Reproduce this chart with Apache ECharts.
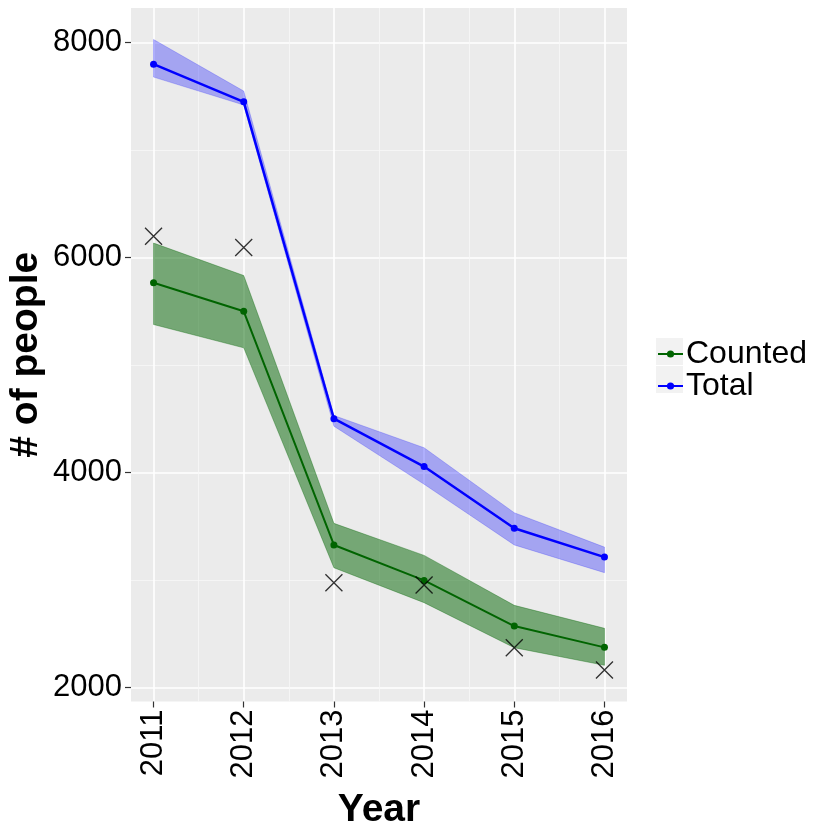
<!DOCTYPE html>
<html>
<head>
<meta charset="utf-8">
<script src="https://cdn.jsdelivr.net/npm/echarts@6/dist/echarts.min.js"></script>
<style>
  html, body { margin: 0; padding: 0; background: #fff; }
  #chart { width: 830px; height: 830px; }
</style>
</head>
<body>
<div id="chart"></div>
<script>
// data
const years = [2011, 2012, 2013, 2014, 2015, 2016];
const totalMean = [7800, 7450, 4500, 4055, 3480, 3212];
const totalLo = [7680, 7420, 4430, 3890, 3325, 3067];
const totalHi = [8030, 7550, 4530, 4230, 3625, 3305];
const countedMean = [5765, 5500, 3325, 2995, 2570, 2372];
const countedLo = [5377, 5160, 3113, 2788, 2369, 2205];
const countedHi = [6135, 5833, 3526, 3228, 2763, 2549];
const observed = [6198, 6093, 2974, 2952, 2369, 2161];
const yTicks = [2000, 4000, 6000, 8000];

const FONT = '"Liberation Sans", Arial, sans-serif';

function zip(xs, ys) { return xs.map((x, i) => [x, ys[i]]); }

// ribbon polygon drawn through the axis scales
function ribbon(lo, hi, fill, stroke) {
  return {
    type: 'custom',
    silent: true,
    z: 1,
    data: years.map((y, i) => [y, lo[i], hi[i]]),
    renderItem: function (params, api) {
      if (params.dataIndex !== 0) return null;
      const top = [], bot = [];
      for (let i = 0; i < years.length; i++) {
        top.push(api.coord([years[i], hi[i]]));
        bot.push(api.coord([years[i], lo[i]]));
      }
      return {
        type: 'polygon',
        shape: { points: top.concat(bot.reverse()) },
        style: { fill: fill, stroke: stroke, lineWidth: 1 }
      };
    }
  };
}

const chart = echarts.init(document.getElementById('chart'));

const option = {
  animation: false,
  backgroundColor: '#ffffff',
  grid: {
    left: 131, top: 8, width: 496, height: 693.5,
    show: true, backgroundColor: '#EBEBEB', borderWidth: 0,
    containLabel: false, outerBoundsMode: 'none'
  },
  xAxis: {
    type: 'value',
    min: 2010.75, max: 2016.25,
    name: 'Year',
    nameLocation: 'middle',
    nameGap: 89,
    nameTextStyle: { fontFamily: FONT, fontSize: 39, fontWeight: 'bold', color: '#000' },
    axisLine: { show: false },
    axisTick: { show: true, length: 6, customValues: years, lineStyle: { color: '#333', width: 1.2 } },
    axisLabel: {
      customValues: years, rotate: 90, margin: 8,
      formatter: v => String(v),
      fontFamily: FONT, fontSize: 31, color: '#000'
    },
    splitLine: { show: true, lineStyle: { color: '#fff', width: 1.6 } },
    minorTick: { show: false, splitNumber: 2 },
    minorSplitLine: { show: true, lineStyle: { color: '#F7F7F7', width: 0.8 } }
  },
  yAxis: {
    type: 'value',
    min: 1868, max: 8323,
    splitNumber: 3,
    name: '# of people',
    nameLocation: 'middle',
    nameRotate: 90,
    nameGap: 85,
    nameMoveOverlap: false,
    nameTextStyle: { fontFamily: FONT, fontSize: 39, fontWeight: 'bold', color: '#000' },
    axisLine: { show: false },
    axisTick: { show: true, length: 6, customValues: yTicks, lineStyle: { color: '#333', width: 1.2 } },
    axisLabel: {
      customValues: yTicks, margin: 9,
      formatter: v => String(v),
      fontFamily: FONT, fontSize: 31, color: '#000'
    },
    splitLine: { show: true, lineStyle: { color: '#fff', width: 1.6 } },
    minorTick: { show: false, splitNumber: 2 },
    minorSplitLine: { show: true, lineStyle: { color: '#F7F7F7', width: 0.8 } }
  },
  legend: {
    orient: 'vertical',
    left: 657, top: 338,
    padding: 0,
    itemWidth: 25, itemHeight: 9, itemGap: 0,
    data: ['Counted', 'Total'],
    textStyle: { fontFamily: FONT, fontSize: 32, color: '#000', lineHeight: 28, padding: [0, 0, 0, -2] }
  },
  graphic: [
    { type: 'rect', z: 0, shape: { x: 656, y: 338, width: 27, height: 27 }, style: { fill: '#F2F2F2' } },
    { type: 'rect', z: 0, shape: { x: 656, y: 366, width: 27, height: 27 }, style: { fill: '#F2F2F2' } }
  ],
  series: [
    ribbon(countedLo, countedHi, 'rgba(0,100,0,0.5)', 'rgba(0,100,0,0.35)'),
    ribbon(totalLo, totalHi, 'rgba(0,0,255,0.3)', 'rgba(0,0,255,0.2)'),
    {
      name: 'Counted', type: 'line', z: 3,
      data: zip(years, countedMean),
      symbol: 'circle', symbolSize: 7, showSymbol: true,
      lineStyle: { color: '#006400', width: 2 },
      itemStyle: { color: '#006400' }
    },
    {
      name: 'Total', type: 'line', z: 3,
      data: zip(years, totalMean),
      symbol: 'circle', symbolSize: 7, showSymbol: true,
      lineStyle: { color: '#0000FF', width: 2.5 },
      itemStyle: { color: '#0000FF' }
    },
    {
      name: 'Observed', type: 'scatter', z: 4,
      data: zip(years, observed),
      symbol: 'path://M0,0L10,10M10,0L0,10',
      symbolSize: 17,
      itemStyle: { color: 'none', borderColor: '#000', borderWidth: 1.3 }
    }
  ]
};

chart.setOption(option);
</script>
</body>
</html>
